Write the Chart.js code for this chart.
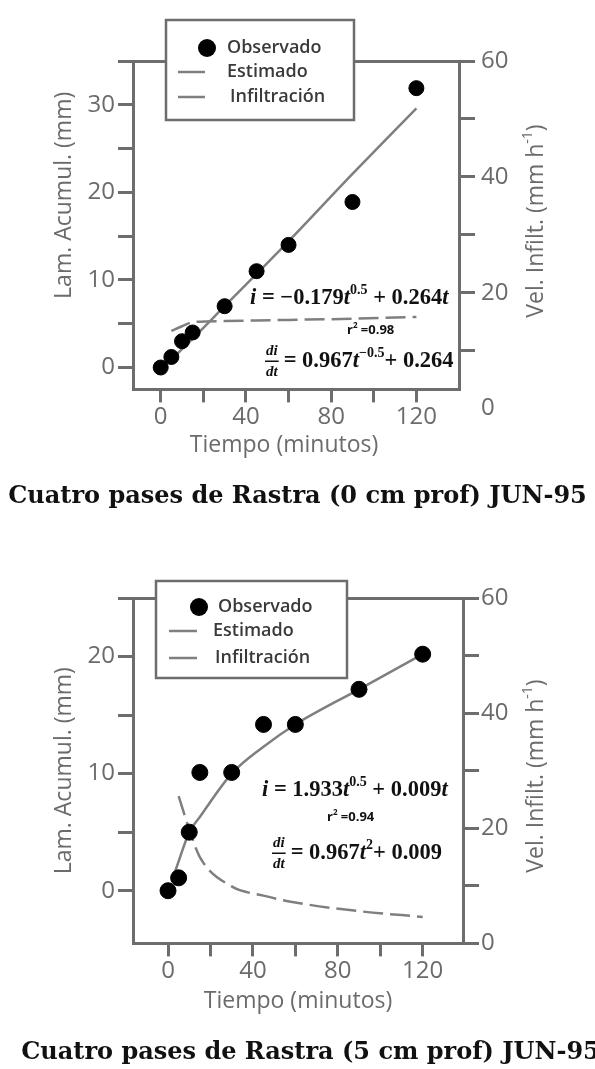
<!DOCTYPE html>
<html>
<head>
<meta charset="utf-8">
<script src="https://cdn.jsdelivr.net/npm/chart.js@4.4.1/dist/chart.umd.min.js"></script>
<style>
  html, body { margin: 0; padding: 0; background: #fff; }
  body { width: 595px; height: 1069px; position: relative; overflow: hidden; }
  canvas { position: absolute; }
  #graf1 { left: 0; top: 0; }
  #graf2 { left: 13px; top: 530px; }
</style>
</head>
<body>
<canvas id="graf1" width="595" height="530"></canvas>
<canvas id="graf2" width="595" height="539"></canvas>
<script>
// ---------- DATOS: 0 cm prof ----------
const TIEMPO_OBS_1 = [0, 5, 10, 15, 30, 45, 60, 90, 120];
const LAMINA_OBS_1 = [0, 1.2, 3.0, 4.0, 7.0, 11.0, 14.0, 18.9, 31.9];
const TIEMPO_EST_1 = [0, 5, 10, 15, 30, 45, 60, 90, 120];
const LAMINA_EST_1 = [0, 0.9, 2.1, 3.3, 7.0, 10.7, 14.4, 22.1, 29.6];
const TIEMPO_INF_1 = [5, 10, 15, 30, 45, 60, 90, 120];
const VEL_INF_1 = [13.4, 14.2, 14.9, 15.1, 15.2, 15.3, 15.5, 15.8];

// ---------- DATOS: 5 cm prof ----------
const TIEMPO_OBS_2 = [0, 5, 10, 15, 30, 45, 60, 90, 120];
const LAMINA_OBS_2 = [0, 1.1, 5.0, 10.1, 10.1, 14.2, 14.2, 17.2, 20.2];
const TIEMPO_EST_2 = [2, 5, 10, 15, 30, 45, 60, 90, 120];
const LAMINA_EST_2 = [0.9, 2.5, 5.0, 6.3, 10.0, 12.3, 14.2, 17.2, 20.2];
const TIEMPO_INF_2 = [5, 10, 15, 30, 45, 60, 90, 120];
const VEL_INF_2 = [25.6, 19.8, 15.0, 9.9, 8.3, 7.1, 5.6, 4.6];

// ---------- MARCAS DE LOS EJES ----------
const TICKS_X = [0, 20, 40, 60, 80, 100, 120];
const TICKS_LAMINA_1 = [0, 5, 10, 15, 20, 25, 30, 35];
const TICKS_LAMINA_2 = [0, 5, 10, 15, 20, 25];
const TICKS_VEL = [0, 10, 20, 30, 40, 50, 60];

const EJE = "#6d6d6d";
const TEXTO_EJE = "#6b6b6b";
const LINEA = "#7f7f7f";

function pares(xs, ys) {
  return xs.map((x, i) => ({ x: x, y: ys[i] }));
}

// texto con cursivas y superindices
function textoRico(ctx, partes, x, y, size, familia) {
  let cx = x;
  partes.forEach((p) => {
    const s = p.sup ? Math.round(size * 0.62) : size;
    ctx.font = (p.it ? "italic " : "") + "bold " + s + "px " + familia;
    ctx.fillText(p.t, cx, p.sup ? y - size * 0.32 : y);
    cx += ctx.measureText(p.t).width;
  });
  return cx;
}

function anchoRico(ctx, partes, size, familia, peso) {
  let w = 0;
  partes.forEach((p) => {
    const s = p.sup ? Math.round(size * 0.62) : size;
    ctx.font = peso + " " + s + "px " + familia;
    w += ctx.measureText(p.t).width;
  });
  return w;
}

const extras = {
  id: "extras",
  afterDraw(chart, args, opts) {
    const ctx = chart.ctx;
    const area = chart.chartArea;
    ctx.save();
    ctx.textBaseline = "middle";
    ctx.textAlign = "left";

    // CAJA DE LEYENDA
    const lg = opts.leyenda;
    const bx = area.left + lg.x;
    const by = area.top + lg.y;
    ctx.fillStyle = "#fff";
    ctx.fillRect(bx, by, lg.w, lg.h);
    ctx.strokeStyle = EJE;
    ctx.lineWidth = 2.5;
    ctx.strokeRect(bx, by, lg.w, lg.h);
    chart.data.datasets.forEach((ds, i) => {
      const fila = lg.filas[i];
      const y = by + fila.y;
      if (ds.showLine === false) {
        ctx.fillStyle = ds.backgroundColor;
        ctx.beginPath();
        ctx.arc(bx + lg.puntoX, y, 9, 0, Math.PI * 2);
        ctx.fill();
      } else {
        ctx.strokeStyle = ds.borderColor;
        ctx.lineWidth = ds.borderWidth;
        ctx.beginPath();
        ctx.moveTo(bx + lg.linea[0], y);
        ctx.lineTo(bx + lg.linea[1], y);
        ctx.stroke();
      }
      ctx.fillStyle = "#3a3a3a";
      ctx.font = '600 18px "Open Sans"';
      ctx.fillText(ds.label, bx + fila.tx, y);
    });

    // ECUACIONES
    ctx.fillStyle = "#111";
    opts.ecuaciones.forEach((eq) => {
      let x = area.left + eq.x;
      const y = area.top + eq.y;
      if (eq.frac) {
        ctx.font = 'italic bold 15px "Liberation Serif"';
        const w = Math.max(ctx.measureText(eq.frac[0]).width, ctx.measureText(eq.frac[1]).width) + 2;
        ctx.textAlign = "center";
        ctx.fillText(eq.frac[0], x + w / 2, y - 10);
        ctx.fillText(eq.frac[1], x + w / 2, y + 11);
        ctx.fillRect(x, y - 0.5, w, 1.5);
        ctx.textAlign = "left";
        x += w + 5;
      }
      textoRico(ctx, eq.partes, x, y, eq.size, eq.familia);
    });

    // TITULO EJE DERECHO (se lee de abajo hacia arriba)
    const t = opts.tituloDer;
    const w = anchoRico(ctx, t.partes, 23, '"Open Sans"', "400");
    ctx.translate(area.right + t.x, area.top + t.y);
    ctx.rotate(-Math.PI / 2);
    ctx.fillStyle = TEXTO_EJE;
    let cx = -w / 2;
    t.partes.forEach((p) => {
      const s = p.sup ? 14 : 23;
      ctx.font = s + 'px "Open Sans"';
      ctx.fillText(p.t, cx, p.sup ? -8 : 0);
      cx += ctx.measureText(p.t).width;
    });
    ctx.restore();
  },
};

function grafico(id, c) {
  const tickFont = { family: "Open Sans", size: 24 };
  const titleFont = { family: "Open Sans", size: 23 };

  const datos = {
    datasets: [
      {
        // PUNTOS OBSERVADOS
        label: "Observado",
        data: c.obs,
        showLine: false,
        pointRadius: c.radio,
        pointHoverRadius: c.radio,
        backgroundColor: "#000",
        borderColor: "#000",
        yAxisID: "y",
      },
      {
        // CURVA ESTIMADA
        label: "Estimado",
        data: c.est,
        showLine: true,
        pointRadius: 0,
        borderColor: LINEA,
        borderWidth: 2.5,
        cubicInterpolationMode: "monotone",
        yAxisID: "y",
      },
      {
        // VELOCIDAD DE INFILTRACION
        label: "Infiltración",
        data: c.inf,
        showLine: true,
        pointRadius: 0,
        borderColor: LINEA,
        borderWidth: 2.5,
        borderDash: [20, 7],
        cubicInterpolationMode: "monotone",
        yAxisID: "y1",
      },
    ],
  };

  const marcas = (lista) => (scale) => {
    scale.ticks = lista.map((v) => ({ value: v }));
  };

  const opciones = {
    responsive: false,
    animation: false,
    devicePixelRatio: 1,
    layout: { padding: { left: 0, right: 0, top: c.area.top, bottom: c.padAbajo } },
    plugins: {
      legend: { display: false },
      tooltip: { enabled: false },
      title: {
        display: true,
        position: "bottom",
        text: c.titulo,
        color: "#111",
        font: { family: "DejaVu Serif", size: 24, weight: "bold" },
        padding: { top: c.padTitulo, bottom: 0 },
      },
      extras: c.extras,
    },
    scales: {
      // EJE X (TIEMPO)
      x: {
        type: "linear",
        position: "bottom",
        min: c.xMin,
        max: c.xMax,
        afterBuildTicks: marcas(TICKS_X),
        afterFit: (s) => { s.height = c.altoX; },
        border: { display: true, color: EJE, width: 3 },
        grid: { drawOnChartArea: false, drawTicks: true, tickLength: 13, tickWidth: 3, tickColor: EJE, lineWidth: 3 },
        ticks: {
          autoSkip: false,
          maxRotation: 0,
          padding: 0,
          color: TEXTO_EJE,
          font: tickFont,
          callback: (v) => (v % 40 === 0 ? v : ""),
        },
        title: {
          display: true,
          text: c.tituloX,
          color: TEXTO_EJE,
          font: titleFont,
          padding: { top: 0, bottom: 0 },
        },
      },
      // BORDE SUPERIOR
      x2: {
        type: "linear",
        position: "top",
        afterFit: (s) => { s.height = 0; },
        border: { display: true, color: EJE, width: 3 },
        grid: { drawOnChartArea: false, drawTicks: false },
        ticks: { display: false },
      },
      // LAMINA ACUMULADA
      y: {
        type: "linear",
        position: "left",
        min: c.yMin,
        max: c.yMax,
        afterBuildTicks: marcas(c.ticksY),
        afterFit: (s) => { s.width = c.area.left; },
        border: { display: true, color: EJE, width: 3 },
        grid: { drawOnChartArea: false, drawTicks: true, tickLength: 15, tickWidth: 3, tickColor: EJE, lineWidth: 3 },
        ticks: {
          autoSkip: false,
          padding: 3,
          color: TEXTO_EJE,
          font: tickFont,
          callback: (v) => (v % 10 === 0 ? v : ""),
        },
        title: {
          display: true,
          text: c.tituloY,
          color: TEXTO_EJE,
          font: titleFont,
          padding: { top: c.padTituloY, bottom: 0 },
        },
      },
      // VELOCIDAD DE INFILTRACION
      y1: {
        type: "linear",
        position: "right",
        min: c.y1Min,
        max: 60,
        afterBuildTicks: marcas(TICKS_VEL),
        afterFit: (s) => { s.width = 595 - c.area.right; },
        border: { display: true, color: EJE, width: 3 },
        grid: {
          drawOnChartArea: false,
          drawTicks: true,
          tickLength: 16,
          tickWidth: 3,
          lineWidth: 3,
          tickColor: (ctx) => (ctx.tick && ctx.tick.value < ctx.scale.min ? "rgba(0,0,0,0)" : EJE),
        },
        ticks: {
          autoSkip: false,
          padding: c.padDer,
          color: TEXTO_EJE,
          font: tickFont,
          callback: (v) => (v % 20 === 0 ? v : ""),
        },
      },
    },
  };

  return new Chart(document.getElementById(id), {
    type: "scatter",
    data: datos,
    options: opciones,
    plugins: [extras],
  });
}

const superior = {
  obs: pares(TIEMPO_OBS_1, LAMINA_OBS_1),
  est: pares(TIEMPO_EST_1, LAMINA_EST_1),
  inf: pares(TIEMPO_INF_1, VEL_INF_1),
  radio: 7.5,
  area: { left: 133, right: 459, top: 61 },
  padAbajo: 18.8,
  padTitulo: 23,
  altoX: 70,
  xMin: -13, xMax: 140,
  yMin: -2.5, yMax: 35,
  y1Min: 3.3,
  ticksY: TICKS_LAMINA_1,
  padDer: 6,
  padTituloY: 51,
  titulo: "Cuatro pases de Rastra (0 cm prof) JUN-95",
  tituloX: "Tiempo (minutos)    ",
  tituloY: "          Lam. Acumul. (mm)",
  extras: {
    leyenda: {
      x: 33, y: -41, w: 188, h: 100,
      puntoX: 41, linea: [12, 39],
      filas: [{ y: 28, tx: 61 }, { y: 52, tx: 61 }, { y: 77, tx: 64 }],
    },
    ecuaciones: [
      {
        x: 117, y: 237, size: 22.5, familia: '"Liberation Serif"',
        partes: [{ t: "i", it: true }, { t: " = −0.179" }, { t: "t", it: true }, { t: "0.5", sup: true }, { t: " + 0.264" }, { t: "t", it: true }],
      },
      {
        x: 214, y: 269, size: 13, familia: '"Open Sans"',
        partes: [{ t: "r" }, { t: "2", sup: true }, { t: " =0.98" }],
      },
      {
        x: 132, y: 300, size: 22.5, familia: '"Liberation Serif"', frac: ["di", "dt"],
        partes: [{ t: "= 0.967" }, { t: "t", it: true }, { t: "−0.5", sup: true }, { t: "+ 0.264" }],
      },
    ],
    tituloDer: { x: 77, y: 160, partes: [{ t: "Vel. Infilt. (mm h" }, { t: "-1", sup: true }, { t: ")" }] },
  },
};

const inferior = {
  obs: pares(TIEMPO_OBS_2, LAMINA_OBS_2),
  est: pares(TIEMPO_EST_2, LAMINA_EST_2),
  inf: pares(TIEMPO_INF_2, VEL_INF_2),
  radio: 8,
  area: { left: 120, right: 450, top: 68 },
  padAbajo: 1.8,
  padTitulo: 23,
  altoX: 72,
  xMin: -16.5, xMax: 139,
  yMin: -4.5, yMax: 25,
  y1Min: 0,
  ticksY: TICKS_LAMINA_2,
  padDer: 2,
  padTituloY: 38,
  titulo: "Cuatro pases de Rastra (5 cm prof) JUN-95",
  tituloX: "Tiempo (minutos)",
  tituloY: "Lam. Acumul. (mm)",
  extras: {
    leyenda: {
      x: 23, y: -17, w: 191, h: 97,
      puntoX: 43, linea: [13, 41],
      filas: [{ y: 26, tx: 62 }, { y: 50, tx: 57 }, { y: 77, tx: 59 }],
    },
    ecuaciones: [
      {
        x: 129, y: 192, size: 22.5, familia: '"Liberation Serif"',
        partes: [{ t: "i", it: true }, { t: " = 1.933" }, { t: "t", it: true }, { t: "0.5", sup: true }, { t: " + 0.009" }, { t: "t", it: true }],
      },
      {
        x: 194, y: 219, size: 13, familia: '"Open Sans"',
        partes: [{ t: "r" }, { t: "2", sup: true }, { t: " =0.94" }],
      },
      {
        x: 139, y: 255, size: 22.5, familia: '"Liberation Serif"', frac: ["di", "dt"],
        partes: [{ t: "= 0.967" }, { t: "t", it: true }, { t: "2", sup: true }, { t: "+ 0.009" }],
      },
    ],
    tituloDer: { x: 73, y: 178, partes: [{ t: "Vel. Infilt. (mm h" }, { t: "-1", sup: true }, { t: ")" }] },
  },
};

grafico("graf1", superior);
grafico("graf2", inferior);
</script>
</body>
</html>
